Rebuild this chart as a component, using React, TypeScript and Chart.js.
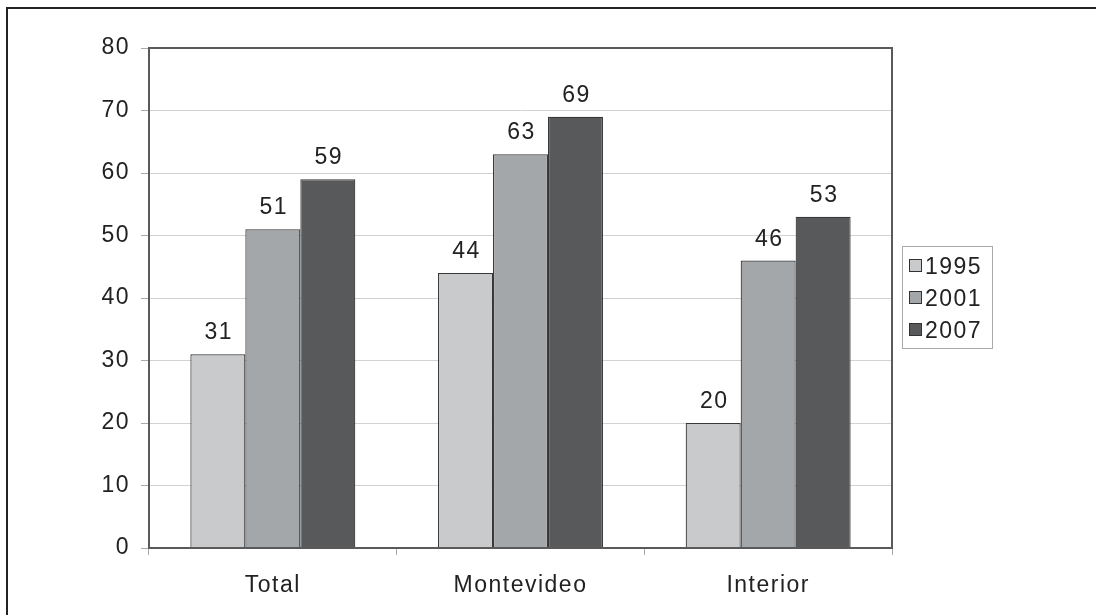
import React, { useEffect, useRef } from "react";
import { Chart, registerables } from "chart.js";

Chart.register(...registerables);

const categories = ["Total", "Montevideo", "Interior"];
const seriesLabels = ["1995", "2001", "2007"];
const values1995 = [31, 44, 20];
const values2001 = [51, 63, 46];
const values2007 = [59, 69, 53];
const seriesColors = ["#c9cacc", "#a4a7aa", "#58595b"];
const yTicks = { min: 0, max: 80, step: 10 };

const FONT = '"Liberation Sans", Arial, sans-serif';
const FS = 23;
const SPACING = "1.5px";

export default function App() {
  const ref = useRef<HTMLCanvasElement | null>(null);

  useEffect(() => {
    if (!ref.current) return;
    const seriesValues = [values1995, values2001, values2007];

    const spacing = {
      id: "spacing",
      beforeDraw(chart: any) {
        (chart.ctx as any).letterSpacing = SPACING;
      },
    };

    const plotBorder = {
      id: "plotBorder",
      afterDatasetsDraw(chart: any) {
        const { ctx, chartArea } = chart;
        ctx.save();
        ctx.strokeStyle = "#5a5a5a";
        ctx.lineWidth = 2;
        ctx.strokeRect(chartArea.left, chartArea.top, chartArea.right - chartArea.left, chartArea.bottom - chartArea.top);
        ctx.restore();
      },
    };

    const valueLabels = {
      id: "valueLabels",
      afterDatasetsDraw(chart: any) {
        const { ctx } = chart;
        ctx.save();
        ctx.letterSpacing = SPACING;
        ctx.font = `${FS}px ${FONT}`;
        ctx.fillStyle = "#222";
        ctx.textAlign = "center";
        ctx.textBaseline = "alphabetic";
        chart.data.datasets.forEach((ds: any, di: number) => {
          const meta = chart.getDatasetMeta(di);
          meta.data.forEach((bar: any, i: number) => {
            ctx.fillText(String(ds.data[i]), bar.x + 1, bar.y - 15);
          });
        });
        ctx.restore();
      },
    };

    const boxLegend = {
      id: "boxLegend",
      afterDraw(chart: any) {
        const { ctx } = chart;
        const x0 = 902;
        const y0 = 246;
        ctx.save();
        ctx.letterSpacing = SPACING;
        ctx.strokeStyle = "#aaa";
        ctx.lineWidth = 1;
        ctx.strokeRect(x0 + 0.5, y0 + 0.5, 90, 102);
        ctx.font = `${FS}px ${FONT}`;
        ctx.textAlign = "left";
        ctx.textBaseline = "alphabetic";
        chart.data.datasets.forEach((ds: any, i: number) => {
          const sy = 259 + i * 32;
          ctx.fillStyle = ds.backgroundColor;
          ctx.fillRect(909, sy, 13, 13);
          ctx.strokeStyle = "#333";
          ctx.strokeRect(909.5, sy + 0.5, 12, 12);
          ctx.fillStyle = "#222";
          ctx.fillText(ds.label, 925, sy + 15);
        });
        ctx.restore();
      },
    };

    const chart = new Chart(ref.current, {
      type: "bar",
      data: {
        labels: categories,
        datasets: seriesLabels.map((label, i) => ({
          label,
          data: seriesValues[i],
          backgroundColor: seriesColors[i],
          borderColor: "#383838",
          borderWidth: 1.2,
          categoryPercentage: 0.666,
          barPercentage: 1,
        })),
      },
      options: {
        responsive: false,
        animation: false,
        layout: { padding: { left: 0, right: 204, top: 48, bottom: 0 } },
        plugins: {
          legend: { display: false },
          tooltip: { enabled: false },
        },
        scales: {
          y: {
            min: yTicks.min,
            max: yTicks.max,
            ticks: {
              stepSize: yTicks.step,
              font: { size: FS, family: FONT },
              color: "#222",
              padding: 11,
            },
            grid: { color: "#d2d2d2", tickColor: "#aaa", tickLength: 8, lineWidth: 1 },
            border: { display: false },
            afterFit(scale: any) {
              scale.width = 149;
            },
          },
          x: {
            ticks: {
              font: { size: FS, family: FONT },
              color: "#222",
              padding: 17,
            },
            grid: { drawOnChartArea: false, offset: true, tickLength: 7, tickColor: "#aaa" },
            border: { display: false },
            afterFit(scale: any) {
              scale.height = 67;
            },
          },
        },
      },
      plugins: [spacing, plotBorder, valueLabels, boxLegend],
    });
    return () => chart.destroy();
  }, []);

  return (
    <div style={{ position: "fixed", left: 0, top: 0, width: 1096, height: 615, overflow: "hidden", background: "#fff" }}>
      <div
        style={{
          position: "absolute",
          left: 6,
          top: 7,
          width: 1200,
          height: 700,
          borderTop: "2px solid #222",
          borderLeft: "2px solid #222",
        }}
      />
      <canvas ref={ref} width={1096} height={615} style={{ position: "absolute", left: 0, top: 0 }} />
    </div>
  );
}
